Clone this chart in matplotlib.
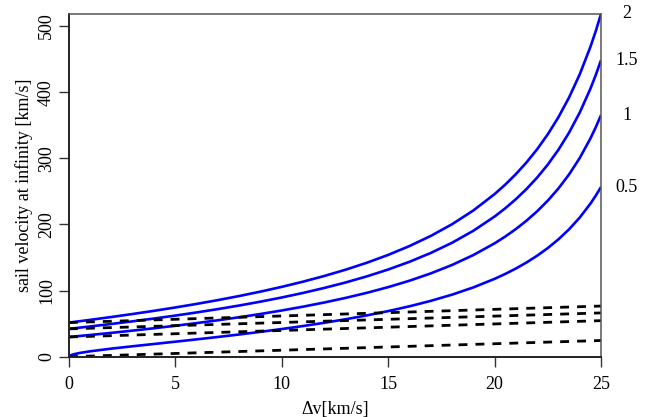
import matplotlib
matplotlib.use("Agg")
import matplotlib.pyplot as plt

plt.rcParams['font.family'] = ['Liberation Serif', 'DejaVu Serif']

# Delta-v values [km/s]
dv = [0, 0.1, 0.25, 0.5, 1, 2, 3, 4, 5, 6, 7, 8, 9, 10, 11, 12, 13, 14, 15,
      16, 17, 18, 19, 20, 20.5, 21, 21.5, 22, 22.5, 23, 23.5, 24, 24.5, 24.75, 25]

# sail velocity at infinity [km/s] for each lightness number (blue curves)
v_b05 = [0.0, 2.46, 3.92, 5.62, 8.18, 12.23, 15.81, 19.26, 22.70, 26.21, 29.83,
         33.61, 37.60, 41.85, 46.39, 51.29, 56.62, 62.48, 68.96, 76.21, 84.42,
         93.82, 104.76, 117.71, 125.13, 133.34, 142.48, 152.71, 164.27, 177.46,
         192.65, 210.37, 231.33, 243.33, 256.54]
v_b10 = [29.80, 30.10, 30.55, 31.32, 32.87, 36.09, 39.47, 43.04, 46.82, 50.83,
         55.10, 59.67, 64.59, 69.90, 75.67, 81.98, 88.92, 96.61, 105.21, 114.90,
         125.96, 138.72, 153.65, 171.43, 181.68, 193.03, 205.69, 219.90, 236.00,
         254.39, 275.62, 300.42, 329.81, 346.65, 365.22]
v_b15 = [42.14, 42.50, 43.03, 43.93, 45.76, 49.55, 53.53, 57.74, 62.19, 66.93,
         71.98, 77.40, 83.24, 89.56, 96.44, 103.97, 112.28, 121.50, 131.84,
         143.51, 156.86, 172.28, 190.38, 211.95, 224.40, 238.20, 253.60, 270.91,
         290.52, 312.95, 338.85, 369.12, 405.01, 425.59, 448.27]
v_b20 = [51.62, 52.02, 52.63, 53.66, 55.74, 60.07, 64.61, 69.39, 74.46, 79.85,
         85.60, 91.77, 98.42, 105.62, 113.47, 122.07, 131.56, 142.10, 153.93,
         167.30, 182.60, 200.30, 221.09, 245.88, 260.20, 276.08, 293.80, 313.73,
         336.32, 362.16, 392.00, 426.90, 468.29, 492.02, 518.19]

# dashed reference lines (start and end values)
dv_ends = [0, 25]
d_b05 = [0.0, 24.5]
d_b10 = [29.8, 54.5]
d_b15 = [42.1, 66.2]
d_b20 = [51.6, 76.6]

beta_labels = ['2', '1.5', '1', '0.5']

fig = plt.figure(figsize=(6.52, 4.17), dpi=100)
ax = fig.add_axes([69/652, 1 - 356.7/417, (601-69)/652, (356.7-14)/417])

blue_sets = [v_b05, v_b10, v_b15, v_b20]
dash_sets = [d_b05, d_b10, d_b15, d_b20]
for v in blue_sets:
    ax.plot(dv, v, color='#0000ff', lw=1.9, solid_capstyle='butt',
            solid_joinstyle='round')
for d in dash_sets:
    ax.plot(dv_ends, d, color='black', lw=2.0, linestyle=(0, (3.2, 2.9)),
            dash_capstyle='butt')

ends = [v_b20[-1], v_b15[-1], v_b10[-1], v_b05[-1]]
for lab, yv in zip(beta_labels, ends):
    ax.text(26.2, yv, lab, ha='center', va='center', fontsize=13, clip_on=False)

ax.set_xlim(0, 25)
ax.set_ylim(0, v_b20[-1])
ax.set_xticks([0, 5, 10, 15, 20, 25])
ax.set_yticks([0, 100, 200, 300, 400, 500])
ax.tick_params(axis='both', labelsize=13, length=7, width=1, color='#333333')
ax.tick_params(axis='x', pad=7)
ax.tick_params(axis='y', pad=3)
for lab in ax.get_yticklabels():
    lab.set_rotation(90)
    lab.set_va('center')
ax.set_xlabel('\u0394v[km/s]', fontsize=13, labelpad=6)
ax.set_ylabel('sail velocity at infinity [km/s]', fontsize=13, labelpad=4)

for s in ['left', 'bottom']:
    ax.spines[s].set_color('#222222')
    ax.spines[s].set_linewidth(1.4)
for s in ['top', 'right']:
    ax.spines[s].set_color('#555555')
    ax.spines[s].set_linewidth(1.1)

fig.savefig('out.png', dpi=100)
